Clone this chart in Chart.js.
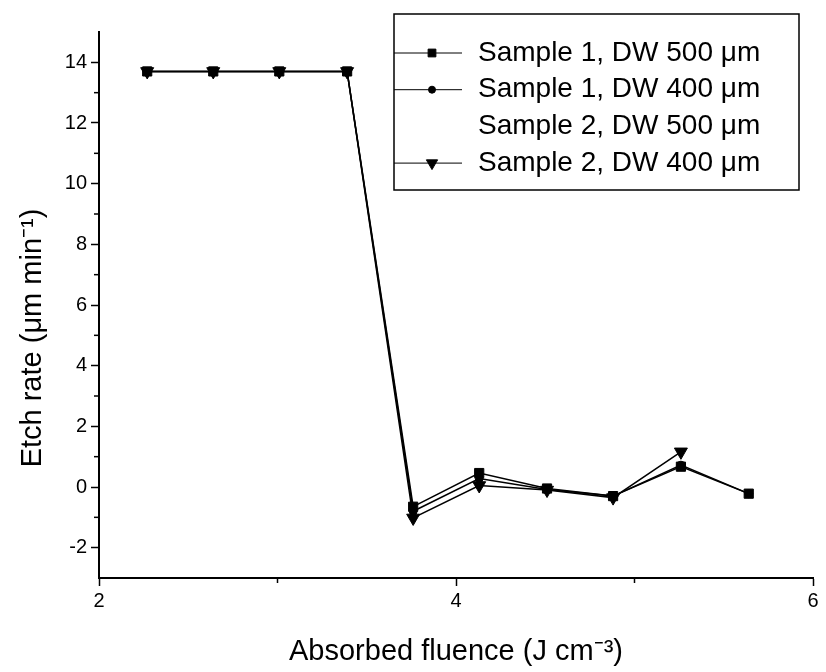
<!DOCTYPE html>
<html>
<head>
<meta charset="utf-8">
<script src="https://cdn.jsdelivr.net/npm/chart.js@4"></script>
<style>
  html, body { margin: 0; padding: 0; background: #fff; }
  #wrap { width: 826px; height: 672px; }
</style>
</head>
<body>
<div id="wrap"><canvas id="etchChart" width="826" height="672"></canvas></div>
<script>
// Etch rate vs absorbed fluence
var fluence = [2.27, 2.64, 3.01, 3.39, 3.76, 4.13, 4.51, 4.88, 5.26, 5.64];
var s1dw500 = [13.7, 13.7, 13.7, 13.7, -0.65, 0.46, -0.05, -0.30, 0.67, -0.22];
var s1dw400 = [13.7, 13.7, 13.7, 13.7, -0.80, 0.28, -0.08, -0.30, 0.72, -0.22];
var s2dw500 = [];
var s2dw400 = [13.7, 13.7, 13.7, 13.7, -1.02, 0.05, -0.10, -0.35, 1.16];
var seriesLabels = ['Sample 1, DW 500 \u03bcm', 'Sample 1, DW 400 \u03bcm', 'Sample 2, DW 500 \u03bcm', 'Sample 2, DW 400 \u03bcm'];
var xMajor = [2, 4, 6];
var yMajor = [-2, 0, 2, 4, 6, 8, 10, 12, 14];
var yTitle = 'Etch rate (\u03bcm min\u207b\u00b9)';
var xTitle = 'Absorbed fluence (J cm\u207b\u00b3)';

function toPoints(ys) {
    return ys.map(function (y, i) { return { x: fluence[i], y: y }; });
}

var FONT = "'Liberation Sans', Arial, sans-serif";

// legend drawn inside the plot, line - marker - line like the original
var boxLegend = {
    id: 'boxLegend',
    afterDraw: function (chart) {
        var ctx = chart.ctx;
        ctx.save();
        ctx.strokeStyle = '#000';
        ctx.lineWidth = 1.5;
        ctx.strokeRect(394, 14, 405, 176);
        chart.data.datasets.forEach(function (ds, i) {
            var y = 53 + i * 36.7;
            if (ds.showLine !== false) {
                ctx.lineWidth = 1;
                ctx.beginPath();
                ctx.moveTo(394, y);
                ctx.lineTo(462, y);
                ctx.stroke();
                ctx.fillStyle = '#000';
                Chart.helpers.drawPoint(ctx, {
                    pointStyle: ds.pointStyle,
                    rotation: ds.pointRotation || 0,
                    radius: ds.legendRadius,
                    borderWidth: 1
                }, 432, y);
            }
            ctx.fillStyle = '#000';
            ctx.font = '28px ' + FONT;
            ctx.textBaseline = 'middle';
            ctx.textAlign = 'left';
            ctx.fillText(ds.label, 478, y);
        });
        ctx.restore();
    }
};

// y title sits a bit below the middle of the axis in the original
var sideTitle = {
    id: 'sideTitle',
    afterDraw: function (chart) {
        var ctx = chart.ctx;
        ctx.save();
        ctx.translate(33, 338);
        ctx.rotate(-Math.PI / 2);
        ctx.fillStyle = '#000';
        ctx.font = '29px ' + FONT;
        ctx.textAlign = 'center';
        ctx.textBaseline = 'middle';
        ctx.fillText(yTitle, 0, 0);
        ctx.restore();
    }
};

// short minor ticks at the odd values
var minorTicks = {
    id: 'minorTicks',
    afterDraw: function (chart) {
        var ctx = chart.ctx;
        var xs = chart.scales.x, ys = chart.scales.y;
        ctx.save();
        ctx.strokeStyle = '#000';
        ctx.lineWidth = 1.5;
        [3, 5].forEach(function (v) {
            var px = xs.getPixelForValue(v);
            ctx.beginPath();
            ctx.moveTo(px, xs.top);
            ctx.lineTo(px, xs.top + 5);
            ctx.stroke();
        });
        for (var v = -1; v <= 13; v += 2) {
            var py = ys.getPixelForValue(v);
            ctx.beginPath();
            ctx.moveTo(ys.right - 5, py);
            ctx.lineTo(ys.right, py);
            ctx.stroke();
        }
        ctx.restore();
    }
};

var ctxEtch = document.getElementById('etchChart').getContext('2d');
var etchChart = new Chart(ctxEtch, {
    type: 'line',
    data: {
        datasets: [
            {
                label: seriesLabels[0], data: toPoints(s1dw500),
                pointStyle: 'rect', pointRadius: 6.5, legendRadius: 5.5
            },
            {
                label: seriesLabels[1], data: toPoints(s1dw400),
                pointStyle: 'circle', pointRadius: 4, legendRadius: 3.5
            },
            {
                label: seriesLabels[2], data: toPoints(s2dw500),
                showLine: false, pointRadius: 0
            },
            {
                label: seriesLabels[3], data: toPoints(s2dw400),
                pointStyle: 'triangle', pointRotation: 180, rotation: 180,
                pointRadius: 7.5, legendRadius: 6.5
            }
        ]
    },
    options: {
        responsive: false,
        animation: false,
        events: [],
        layout: { padding: { top: 32, right: 13, left: 0, bottom: 0 } },
        elements: {
            line: { borderColor: '#000', borderWidth: 1.5, tension: 0 },
            point: { backgroundColor: '#000', borderColor: '#000', borderWidth: 1 }
        },
        plugins: { legend: { display: false }, tooltip: { enabled: false } },
        scales: {
            x: {
                type: 'linear', min: 2, max: 6,
                afterFit: function (s) { s.height = 94; },
                border: { display: true, color: '#000', width: 2 },
                grid: {
                    drawOnChartArea: false, tickLength: 8, tickWidth: 1.5,
                    tickColor: function (c) { return xMajor.indexOf(c.tick.value) >= 0 ? '#000' : 'rgba(0,0,0,0)'; }
                },
                ticks: {
                    stepSize: 1, padding: 3, color: '#000', maxRotation: 0,
                    font: { family: FONT, size: 20 },
                    callback: function (v) { return xMajor.indexOf(v) >= 0 ? v : ''; }
                },
                title: {
                    display: true, text: xTitle, color: '#000',
                    font: { family: FONT, size: 29 }, padding: { top: 0, bottom: 3 }
                }
            },
            y: {
                type: 'linear', min: -3, max: 15,
                afterFit: function (s) { s.width = 99; },
                border: { display: true, color: '#000', width: 2 },
                grid: {
                    drawOnChartArea: false, tickLength: 8, tickWidth: 1.5,
                    tickColor: function (c) { return yMajor.indexOf(c.tick.value) >= 0 ? '#000' : 'rgba(0,0,0,0)'; }
                },
                ticks: {
                    stepSize: 1, padding: 4, color: '#000',
                    font: { family: FONT, size: 20 },
                    callback: function (v) { return yMajor.indexOf(v) >= 0 ? v : ''; }
                }
            }
        }
    },
    plugins: [boxLegend, sideTitle, minorTicks]
});
</script>
</body>
</html>
